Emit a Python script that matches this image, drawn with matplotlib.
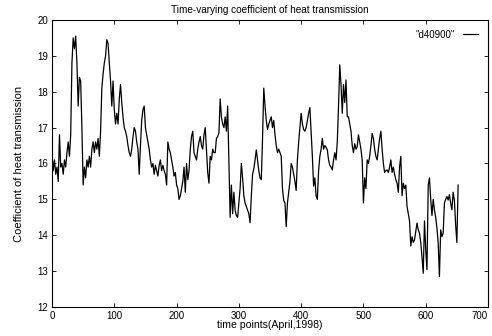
import numpy as np
import matplotlib
matplotlib.use("Agg")
import matplotlib.pyplot as plt

# readings every 2 time points, t = 0 .. 652
heat = [
    16.3, 15.8, 16.1, 15.7, 15.9, 15.5, 16.8, 15.9, 16.0, 15.7,
    16.1, 15.9, 16.3, 16.6, 16.2, 16.8, 18.8, 19.5, 19.2, 19.55,
    18.8, 17.6, 18.4, 18.3, 17.0, 15.4, 15.9, 15.6, 16.1, 15.9,
    16.2, 15.9, 16.4, 16.6, 16.3, 16.6, 16.4, 16.7, 16.2, 16.9,
    18.1, 18.5, 18.8, 19.0, 19.45, 19.35, 18.8, 18.3, 17.6, 18.3,
    17.5, 17.1, 17.4, 17.1, 17.8, 18.2, 17.7, 17.3, 17.0, 16.9,
    16.75, 16.5, 16.3, 16.2, 16.4, 16.75, 17.0, 16.9, 16.6, 16.4,
    15.7, 16.5, 17.2, 17.5, 17.6, 17.0, 16.8, 16.6, 16.4, 16.1,
    15.9, 16.0, 15.7, 15.95, 15.8, 15.65, 15.95, 16.1, 15.8, 15.95,
    15.8, 15.7, 15.4, 16.6, 16.4, 16.3, 16.1, 15.9, 15.65, 15.75,
    15.4, 15.3, 15.0, 15.1, 15.3, 15.5, 15.9, 15.2, 16.0, 15.55,
    15.8, 16.4, 16.75, 16.9, 16.3, 16.2, 16.1, 16.4, 16.6, 16.75,
    16.5, 16.4, 16.8, 17.0, 16.4, 15.75, 15.45, 16.2, 16.1, 16.4,
    16.3, 16.3, 16.7, 16.75, 16.85, 17.8, 17.3, 17.1, 17.0, 17.3,
    16.9, 17.6, 16.0, 14.5, 15.4, 14.6, 15.2, 14.7, 14.55, 14.5,
    14.9, 15.3, 16.0, 15.6, 15.1, 14.9, 14.8, 14.7, 14.6, 14.35,
    15.1, 15.7, 15.85, 16.1, 16.38, 16.1, 15.8, 15.6, 15.55, 16.7,
    18.1, 17.6, 17.2, 16.95, 17.1, 17.2, 17.3, 17.0, 17.2, 16.8,
    16.5, 16.3, 16.4, 16.3, 16.2, 15.3, 14.97, 14.9, 14.24, 14.9,
    15.2, 15.5, 16.0, 15.9, 15.7, 15.5, 15.25, 16.1, 16.6, 17.0,
    17.4, 17.1, 16.95, 16.9, 17.0, 17.2, 17.4, 17.56, 16.9, 16.2,
    15.37, 15.6, 15.1, 15.0, 15.8, 16.2, 16.4, 16.7, 16.4, 16.5,
    16.45, 16.38, 16.1, 15.95, 15.9, 15.82, 16.1, 16.3, 16.1, 16.6,
    17.6, 18.75, 18.2, 17.4, 18.2, 17.7, 18.33, 17.3, 17.3, 17.1,
    16.9, 16.5, 16.3, 16.55, 16.4, 16.47, 16.8, 16.6, 16.4, 16.1,
    14.9, 15.6, 15.3, 16.1, 16.0, 16.2, 16.5, 16.84, 16.7, 16.4,
    16.2, 16.1, 16.4, 16.7, 16.9, 16.4, 16.0, 15.75, 15.8, 15.82,
    15.75, 15.9, 16.1, 15.75, 15.9, 15.7, 15.55, 15.45, 15.2, 15.9,
    16.2, 15.1, 15.45, 15.3, 15.4, 14.8, 14.6, 14.4, 13.7, 13.96,
    13.8, 13.87, 14.1, 14.34, 14.15, 14.06, 13.8, 13.4, 12.94, 14.4,
    13.6, 13.04, 15.4, 15.6, 15.0, 14.55, 15.0, 14.7, 14.5, 14.2,
    13.78, 12.85, 14.15, 13.96, 14.06, 14.9, 15.0, 15.08, 14.98, 15.13,
    14.9, 14.71, 15.2, 14.98, 14.3, 13.8, 15.4,
]
time_pts = np.arange(len(heat)) * 2

x_ticks = [0, 100, 200, 300, 400, 500, 600, 700]
y_ticks = [12, 13, 14, 15, 16, 17, 18, 19, 20]

plt.rcParams['font.family'] = ['Liberation Sans', 'DejaVu Sans']

fig = plt.figure(figsize=(4.92, 3.36), dpi=100)
ax = fig.add_axes([0.1057, 0.0863, 0.8862, 0.8542])
ax.plot(time_pts, heat, color='black', linewidth=0.9, label='"d40900"')
ax.set_xlim(0, 700)
ax.set_ylim(12, 20)
ax.set_xticks(x_ticks)
ax.set_yticks(y_ticks)
ax.tick_params(direction='in', length=3, width=0.6, labelsize=7,
               top=True, right=True, pad=3)
# last x label sits on the image edge, nudge it inside
ax.get_xticklabels()[-1].set_horizontalalignment('right')
for s in ax.spines.values():
    s.set_linewidth(0.8)
ax.set_title('Time-varying coefficient of heat transmission', fontsize=7.2, pad=5)
ax.set_xlabel('time points(April,1998)', fontsize=7.6, labelpad=-1)
ax.set_ylabel('Coefficient of heat transmission', fontsize=8, labelpad=9)
ax.legend(loc='upper right', frameon=False, markerfirst=False, fontsize=7,
          handlelength=1.6, borderaxespad=0.6)
plt.savefig('out.png', dpi=100)
plt.close()
